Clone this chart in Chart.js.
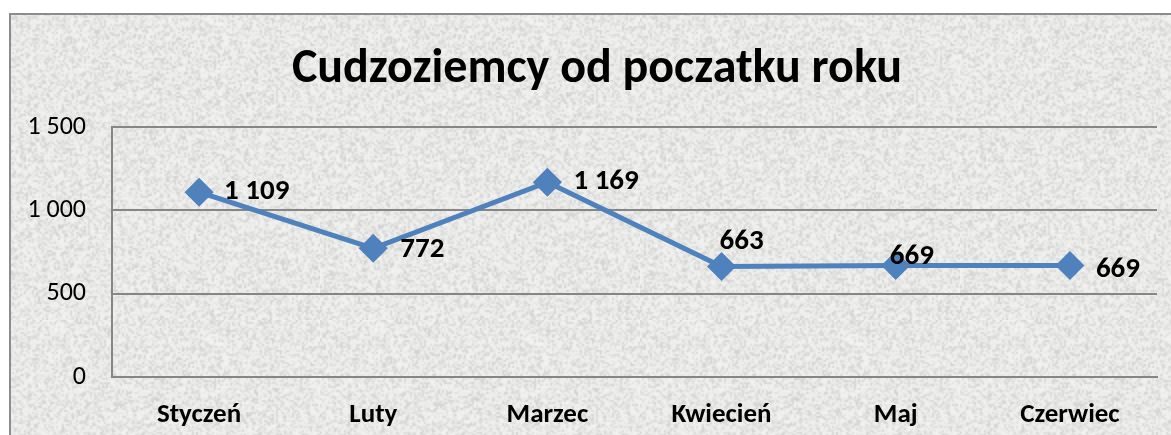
<!DOCTYPE html>
<html>
<head>
<meta charset="utf-8">
<script src="https://cdn.jsdelivr.net/npm/chart.js@4"></script>
<style>
    html, body { margin: 0; padding: 0; background: #fff; overflow: hidden; }
    #wrap { width: 1185px; height: 435px; }
</style>
</head>
<body>
<div id="wrap"><canvas id="chart" width="1185" height="435"></canvas></div>
<script>
const months = ["Styczeń", "Luty", "Marzec", "Kwiecień", "Maj", "Czerwiec"];
const foreigners = [1109, 772, 1169, 663, 669, 669];
const yTicks = [0, 500, 1000, 1500];
const chartTitle = "Cudzoziemcy od poczatku roku";

const FONT = "Carlito, Lato, sans-serif";

// Granite-like paper texture for the background
function makeTexture()
{
    const n = 160;
    const small = document.createElement("canvas");
    small.width = n;
    small.height = n;
    const sctx = small.getContext("2d");
    const img = sctx.createImageData(n, n);
    let seed = 98765;
    const rnd = () => { seed = (seed * 1103515245 + 12345) & 0x7fffffff; return seed / 0x7fffffff; };
    for (let i = 0; i < n * n; i++)
    {
        const r = rnd();
        const v = 243 - r * r * 36;
        img.data[i * 4] = v;
        img.data[i * 4 + 1] = v;
        img.data[i * 4 + 2] = v - 2;
        img.data[i * 4 + 3] = 255;
    }
    sctx.putImageData(img, 0, 0);

    const big = document.createElement("canvas");
    big.width = n * 2;
    big.height = n * 2;
    const bctx = big.getContext("2d");
    bctx.imageSmoothingEnabled = true;
    bctx.drawImage(small, 0, 0, n * 2, n * 2);
    return big;
}

const backgroundPlugin = {
    id: "paper",
    beforeDraw(chart)
    {
        const ctx = chart.ctx;
        ctx.save();
        ctx.fillStyle = ctx.createPattern(makeTexture(), "repeat");
        ctx.fillRect(10, 14, chart.width, chart.height);
        ctx.strokeStyle = "#8c8c8c";
        ctx.lineWidth = 2;
        ctx.beginPath();
        ctx.moveTo(10, chart.height + 2);
        ctx.lineTo(10, 14);
        ctx.lineTo(chart.width + 2, 14);
        ctx.stroke();

        ctx.fillStyle = "#000";
        ctx.font = "bold 48px " + FONT;
        ctx.textAlign = "center";
        ctx.textBaseline = "alphabetic";
        ctx.fillText(chartTitle, 597, 82);
        ctx.restore();
    }
};

function formatThousands(v)
{
    return String(v).replace(/\B(?=(\d{3})+(?!\d))/g, " ");
}

const valueLabelPlugin = {
    id: "valueLabels",
    afterDatasetsDraw(chart, args, opts)
    {
        const ctx = chart.ctx;
        const meta = chart.getDatasetMeta(0);
        ctx.save();
        ctx.fillStyle = "#000";
        ctx.font = "bold 29px " + FONT;
        ctx.textAlign = "left";
        ctx.textBaseline = "middle";
        meta.data.forEach((pt, i) =>
        {
            const off = opts.offsets[i];
            ctx.fillText(formatThousands(foreigners[i]), pt.x + off[0], pt.y + off[1]);
        });
        ctx.restore();
    }
};

new Chart(document.getElementById("chart"), {
    type: "line",
    data: {
        labels: months,
        datasets: [{
            data: foreigners,
            borderColor: "#4f81bd",
            backgroundColor: "#4f81bd",
            borderWidth: 5,
            pointStyle: "rectRot",
            pointRadius: 11,
            pointHoverRadius: 11,
            tension: 0
        }]
    },
    options: {
        responsive: false,
        animation: false,
        layout: { padding: { left: 10, top: 127, right: 28, bottom: 0 } },
        plugins: {
            legend: { display: false },
            tooltip: { enabled: false },
            valueLabels: {
                offsets: [[25, 0], [27, 1], [26, 0], [-2, -25], [-6, -9], [26, 4]]
            }
        },
        scales: {
            x: {
                offset: true,
                grid: { display: false, drawTicks: false },
                border: { display: true, color: "#868686", width: 2 },
                ticks: {
                    padding: 22,
                    color: "#000",
                    font: { family: FONT, size: 27, weight: "bold" }
                },
                afterFit(scale) { scale.height = 58; }
            },
            y: {
                min: 0,
                max: 1500,
                afterBuildTicks(scale) { scale.ticks = yTicks.map(v => ({ value: v })); },
                grid: { color: "#868686", lineWidth: 2, drawTicks: false },
                border: { display: true, color: "#868686", width: 2 },
                ticks: {
                    padding: 26,
                    color: "#000",
                    font: { family: FONT, size: 26 },
                    callback: v => formatThousands(v)
                },
                afterFit(scale) { scale.width = 102; }
            }
        }
    },
    plugins: [backgroundPlugin, valueLabelPlugin]
});
</script>
</body>
</html>
